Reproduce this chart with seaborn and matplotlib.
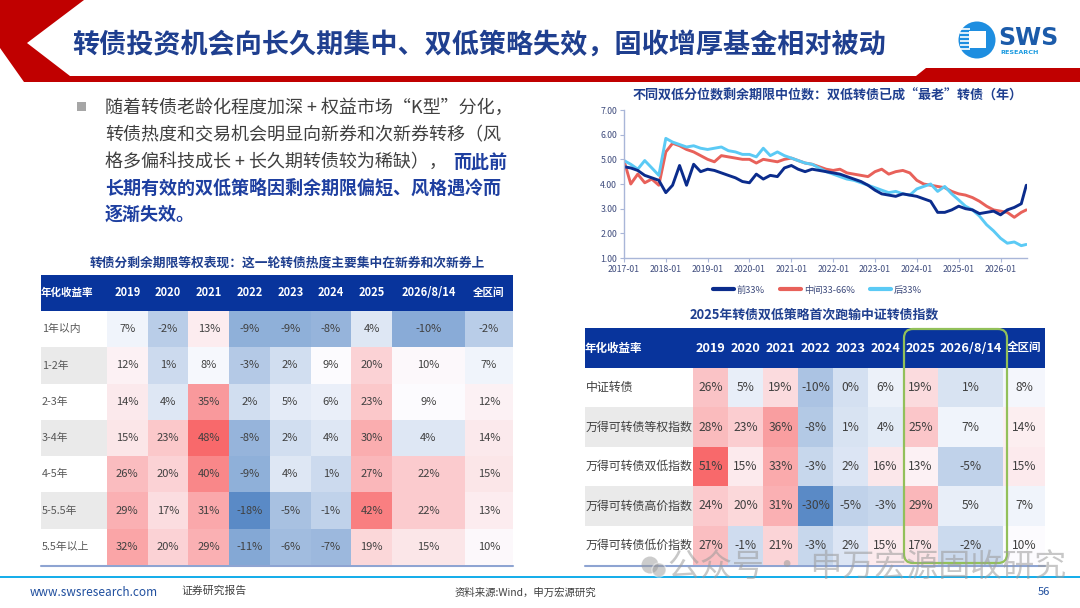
import numpy as np
import pandas as pd
import matplotlib
matplotlib.use("Agg")
import matplotlib.pyplot as plt
import matplotlib.dates as mdates
from matplotlib.ticker import FormatStrFormatter
from matplotlib.colors import LinearSegmentedColormap, TwoSlopeNorm
from matplotlib.patches import Rectangle, Polygon, FancyBboxPatch, Circle
from matplotlib.lines import Line2D
import seaborn as sns

# ---------------- data ----------------
# left table: returns by remaining maturity
left_rows = ["1年以内", "1-2年", "2-3年", "3-4年", "4-5年", "5-5.5年", "5.5年以上"]
left_cols = ["2019", "2020", "2021", "2022", "2023", "2024", "2025", "2026/8/14", "全区间"]
left_vals = [
    [7, -2, 13, -9, -9, -8, 4, -10, -2],
    [12, 1, 8, -3, 2, 9, 20, 10, 7],
    [14, 4, 35, 2, 5, 6, 23, 9, 12],
    [15, 23, 48, -8, 2, 4, 30, 4, 14],
    [26, 20, 40, -9, 4, 1, 27, 22, 15],
    [29, 17, 31, -18, -5, -1, 42, 22, 13],
    [32, 20, 29, -11, -6, -7, 19, 15, 10],
]

# right table: index returns
right_rows = ["中证转债", "万得可转债等权指数", "万得可转债双低指数", "万得可转债高价指数", "万得可转债低价指数"]
right_cols = ["2019", "2020", "2021", "2022", "2023", "2024", "2025", "2026/8/14", "全区间"]
right_vals = [
    [26, 5, 19, -10, 0, 6, 19, 1, 8],
    [28, 23, 36, -8, 1, 4, 25, 7, 14],
    [51, 15, 33, -3, 2, 16, 13, -5, 15],
    [24, 20, 31, -30, -5, -3, 29, 5, 7],
    [27, -1, 21, -3, 2, 15, 17, -2, 10],
]

# line chart: median remaining maturity (years), sampled every two months
line_dates = list(pd.date_range("2017-01-01", "2026-07-01", freq="2MS")) + [pd.Timestamp("2026-08-14")]
front33 = [4.70, 4.65, 4.55, 4.35, 4.25, 4.15,
           3.65, 3.95, 4.75, 3.95, 4.80, 4.50,
           4.60, 4.55, 4.45, 4.35, 4.25, 4.10,
           4.05, 4.40, 4.20, 4.35, 4.30, 4.65,
           4.75, 4.60, 4.50, 4.60, 4.55, 4.50,
           4.45, 4.40, 4.30, 4.20, 4.10, 3.95,
           3.75, 3.60, 3.55, 3.50, 3.60, 3.55,
           3.50, 3.40, 3.30, 2.85, 2.85, 2.95,
           3.10, 3.00, 2.95, 2.80, 2.85, 2.90,
           2.75, 2.95, 3.05, 3.20, 3.95]
mid33_66 = [4.95, 4.00, 4.40, 4.05, 4.20, 3.95,
            5.30, 5.65, 5.55, 5.40, 5.30, 5.15,
            5.00, 4.90, 5.15, 5.10, 5.05, 5.00,
            5.00, 4.85, 5.00, 4.95, 4.90, 5.00,
            5.05, 4.95, 4.85, 4.80, 4.70, 4.60,
            4.55, 4.60, 4.45, 4.40, 4.35, 4.30,
            4.50, 4.60, 4.40, 4.50, 4.55, 4.45,
            4.15, 4.00, 3.95, 3.90, 3.85, 3.70,
            3.60, 3.55, 3.45, 3.30, 3.10, 2.95,
            2.90, 2.85, 2.65, 2.85, 2.95]
back33 = [4.95, 4.80, 4.60, 4.95, 4.65, 4.35,
          5.85, 5.70, 5.60, 5.50, 5.55, 5.45,
          5.40, 5.45, 5.50, 5.35, 5.30, 5.20,
          5.20, 5.10, 5.45, 5.15, 5.30, 5.15,
          5.05, 4.95, 4.85, 4.80, 4.65, 4.50,
          4.40, 4.30, 4.20, 4.15, 4.05, 3.95,
          3.85, 3.75, 3.65, 3.70, 3.60, 3.55,
          3.80, 3.90, 4.00, 3.70, 3.90, 3.60,
          3.35, 3.10, 2.95, 2.70, 2.35, 2.10,
          1.80, 1.60, 1.65, 1.50, 1.55]
series_names = ["前33%", "中间33-66%", "后33%"]
series_colors = ["#0B2C8C", "#E8615A", "#5BCAF5"]

# ---------------- setup ----------------
sns.set_theme(style="white")
plt.rcParams["font.family"] = ["Noto Sans CJK SC", "DejaVu Sans"]
plt.rcParams["axes.unicode_minus"] = False

W, H = 1080, 608
fig = plt.figure(figsize=(10.8, 6.08), dpi=100)
fig.patch.set_facecolor("white")


def rect(x0, y0, x1, y1):
    return [x0 / W, 1 - y1 / H, (x1 - x0) / W, (y1 - y0) / H]


bg = fig.add_axes([0, 0, 1, 1])
bg.set_xlim(0, W)
bg.set_ylim(H, 0)
bg.axis("off")

NAVY_T = "#1F3F8F"
HEAD = "#08349C"
TXT = "#404040"

# header decoration
bg.add_patch(Polygon([(0, 0), (84, 0), (27, 43), (70, 76), (916, 76), (926, 68),
                      (1080, 68), (1080, 82), (24, 82), (0, 48)],
                     closed=True, fc="#C00000", ec="none"))
bg.text(72, 45, "转债投资机会向长久期集中、双低策略失效，固收增厚基金相对被动",
        fontsize=19.5, fontweight="bold", color=NAVY_T, va="center", ha="left")

# logo
bg.add_patch(Circle((977, 40), 18.5, fc="#1E8EE0", ec="none"))
bg.add_patch(Rectangle((969, 31), 17, 17, fc="white", ec="none"))
for yy in [29, 33, 37, 41, 45, 49]:
    bg.plot([960, 970], [yy, yy], color="white", lw=1.2, solid_capstyle="butt")
bg.text(998, 38, "SWS", fontsize=17, fontweight="bold", color="#1B5BAA",
        family=["DejaVu Sans"], va="center", ha="left")
bg.text(1000, 52, "RESEARCH", fontsize=4.6, fontweight="bold", color="#1A9AE0",
        family=["DejaVu Sans"], va="center", ha="left")

# bullet text
bg.add_patch(Rectangle((77, 102), 9, 9, fc="#A6A6A6", ec="none"))
fs_b = 13
bg.text(105, 108, "随着转债老龄化程度加深 + 权益市场“K型”分化，", fontsize=fs_b, color=TXT, va="center")
bg.text(105, 135, "转债热度和交易机会明显向新券和次新券转移（风", fontsize=fs_b, color=TXT, va="center")
bg.text(105, 162, "格多偏科技成长 + 长久期转债较为稀缺），", fontsize=fs_b, color=TXT, va="center")
bg.text(453, 162, "而此前", fontsize=fs_b, color="#1E3FA0", fontweight="bold", va="center")
bg.text(105, 188, "长期有效的双低策略因剩余期限偏短、风格遇冷而", fontsize=fs_b, color="#1E3FA0",
        fontweight="bold", va="center")
bg.text(105, 214, "逐渐失效。", fontsize=fs_b, color="#1E3FA0", fontweight="bold", va="center")

# colormap (Excel-like 3 colour scale)
cmap = LinearSegmentedColormap.from_list("bwr_xl", ["#5A8AC6", "#FCFCFF", "#F8696B"])


def draw_table(rows, cols, vals, x_label0, col_edges, y_head0, y_head1, y_end,
               norm, fs_val, fs_year, fs_head_cn, fs_row, row_color, gray_rows):
    df = pd.DataFrame(vals, index=rows, columns=cols)
    # header band
    bg.add_patch(Rectangle((x_label0, y_head0), col_edges[-1] - x_label0, y_head1 - y_head0,
                           fc=HEAD, ec="none"))
    ymid = (y_head0 + y_head1) / 2
    bg.text(x_label0, ymid, "年化收益率", fontsize=fs_head_cn, fontweight="bold",
            color="white", va="center", ha="left")
    for j, c in enumerate(cols):
        cx = (col_edges[j] + col_edges[j + 1]) / 2
        fs = fs_head_cn if c == "全区间" else fs_year
        bg.text(cx, ymid, c, fontsize=fs, fontweight="bold", color="white",
                va="center", ha="center")
    # row labels
    rh = (y_end - y_head1) / len(rows)
    for i, r in enumerate(rows):
        y0 = y_head1 + i * rh
        if i in gray_rows:
            bg.add_patch(Rectangle((x_label0, y0), col_edges[0] - x_label0, rh,
                                   fc="#EAEAEA", ec="none"))
        bg.text(x_label0 + 1, y0 + rh / 2, r, fontsize=fs_row, color=row_color,
                va="center", ha="left")
    # heatmap blocks (2019-2025 | 2026/8/14 | 全区间)
    groups = [(0, 7), (7, 8), (8, 9)]
    for c0, c1 in groups:
        ax = fig.add_axes(rect(col_edges[c0], y_head1, col_edges[c1], y_end))
        sub = df.iloc[:, c0:c1]
        annot = np.array([[f"{v}%" for v in row] for row in sub.values])
        sns.heatmap(sub, ax=ax, cmap=cmap, norm=norm, cbar=False,
                    annot=annot, fmt="", xticklabels=False, yticklabels=False,
                    linewidths=0, annot_kws=dict(fontsize=fs_val, color=TXT))
        ax.set_xlabel("")
        ax.set_ylabel("")
        for s in ax.spines.values():
            s.set_visible(False)
    bg.plot([x_label0, col_edges[-1]], [y_end + 1, y_end + 1], color="#8EA4D2", lw=1.5)


# left table
bg.text(287, 263, "转债分剩余期限等权表现：这一轮转债热度主要集中在新券和次新券上",
        fontsize=9.2, fontweight="bold", color=NAVY_T, va="center", ha="center")
left_edges = [107, 147.7, 188.4, 229.1, 269.9, 310.6, 351.3, 392, 465, 513]
draw_table(left_rows, left_cols, left_vals, 41, left_edges, 275, 311, 565,
           TwoSlopeNorm(vmin=-18, vcenter=9, vmax=48), 8, 8, 7.6, 7.8, "#595959", [1, 3, 5])

# right table
bg.text(814, 315, "2025年转债双低策略首次跑输中证转债指数",
        fontsize=9.3, fontweight="bold", color=NAVY_T, va="center", ha="center")
right_edges = [693, 728, 763, 798, 833, 868, 903, 938, 1003, 1045]
draw_table(right_rows, right_cols, right_vals, 585, right_edges, 328, 368, 565,
           TwoSlopeNorm(vmin=-30, vcenter=10, vmax=51), 8.7, 9.2, 8.3, 8.6, TXT, [1, 3])

# ---------------- line chart ----------------
ax = fig.add_axes(rect(624, 110, 1027, 258))
line_df = pd.DataFrame({"date": line_dates, series_names[0]: front33,
                        series_names[1]: mid33_66, series_names[2]: back33})
long_df = line_df.melt(id_vars="date", var_name="series", value_name="years")
draw_order = [series_names[1], series_names[2], series_names[0]]
for name in draw_order:
    sns.lineplot(data=long_df[long_df["series"] == name], x="date", y="years",
                 color=series_colors[series_names.index(name)], lw=2.1, ax=ax,
                 legend=False)
ax.set_xlim(pd.Timestamp("2017-01-01"), pd.Timestamp("2026-08-20"))
ax.set_ylim(1, 7)
ax.set_yticks(np.arange(1, 7.01, 1))
ax.yaxis.set_major_formatter(FormatStrFormatter("%.2f"))
ax.xaxis.set_major_locator(mdates.YearLocator())
ax.xaxis.set_major_formatter(mdates.DateFormatter("%Y-%m"))
ax.set_xlabel("")
ax.set_ylabel("")
ax.set_facecolor("none")
for k in ["top", "right"]:
    ax.spines[k].set_visible(False)
for k in ["left", "bottom"]:
    ax.spines[k].set_color("#A9B6D8")
    ax.spines[k].set_linewidth(1.0)
ax.tick_params(axis="both", labelsize=6.3, labelcolor="#3F4C7D", color="#A9B6D8",
               length=3, width=0.8, pad=2, direction="out")
ax.tick_params(axis="x", bottom=True)
ax.tick_params(axis="y", left=True)
ax.grid(False)
handles = [Line2D([0], [0], color=c, lw=3) for c in series_colors]
ax.legend(handles, series_names, loc="upper center", bbox_to_anchor=(0.48, -0.13),
          ncol=3, frameon=False, fontsize=6.7, handlelength=2.3, columnspacing=1.6,
          handletextpad=0.3, labelcolor="#3F4C7D")
bg.text(828, 96, "不同双低分位数剩余期限中位数：双低转债已成“最老”转债（年）",
        fontsize=9.4, fontweight="bold", color=NAVY_T, va="center", ha="center")

# ---------------- footer ----------------
bg.plot([0, W], [577, 577], color="#00A6E8", lw=1.3)
bg.text(30, 592, "www.swsresearch.com", fontsize=8.5, color="#1F4E9E", va="center", ha="left")
bg.text(181, 591, "证券研究报告", fontsize=7.8, color=TXT, va="center", ha="left")
bg.text(455, 593, "资料来源:Wind，申万宏源研究", fontsize=7.5, color=TXT, va="center", ha="left")
bg.text(1050, 592, "56", fontsize=8, color="#1F4E9E", va="center", ha="right")

# ---------------- overlay: highlight box + watermark ----------------
ov = fig.add_axes([0, 0, 1, 1])
ov.set_xlim(0, W)
ov.set_ylim(H, 0)
ov.axis("off")
ov.add_patch(FancyBboxPatch((904, 329), 103, 234, boxstyle="round,pad=0,rounding_size=9",
                            fill=False, ec="#92C05A", lw=1.6))
ov.add_patch(Circle((650, 565), 8.5, fc="#9A9A9A", ec="none", alpha=0.5))
ov.add_patch(Circle((659, 570), 7, fc="#9A9A9A", ec="white", lw=1, alpha=0.5))
ov.text(668, 567, "公众号 · 申万宏源固收研究", fontsize=23, color="#9A9A9A", alpha=0.55,
        va="center", ha="left")

fig.savefig("out.png", dpi=100, facecolor="white")
